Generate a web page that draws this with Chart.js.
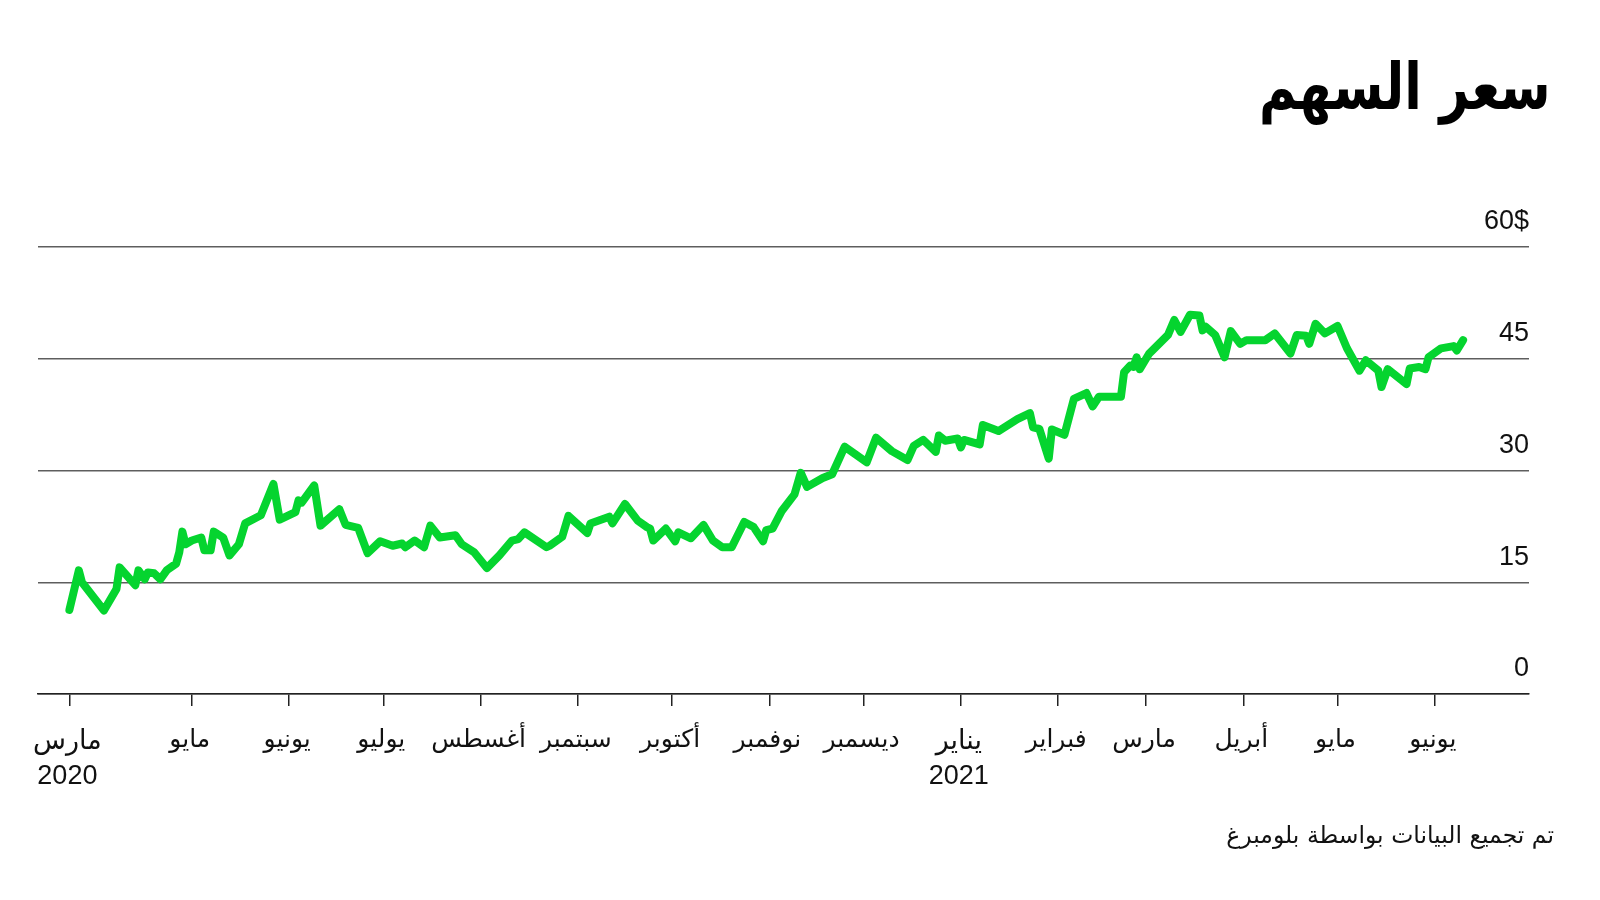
<!DOCTYPE html>
<html lang="ar">
<head>
  <meta charset="UTF-8"/>
  <title>سعر السهم</title>
  <script src="https://cdn.jsdelivr.net/npm/chart.js"></script>
  <style>
    body { margin: 0; background: #fff; }
    #wrap { position: relative; width: 1600px; height: 900px; background: #fff; }
    #chart { position: absolute; left: 0; top: 0; }
    .title { position: absolute; right: 49px; top: 55px; margin: 0; direction: rtl;
             font-family: "DejaVu Sans", sans-serif; font-weight: bold; font-size: 64px; line-height: 1; color: #000;
             transform: scaleX(0.8); transform-origin: right center; }
    .source { position: absolute; right: 46px; top: 821px; margin: 0; direction: rtl;
              font-family: "DejaVu Sans", sans-serif; font-size: 23.5px; line-height: 1.2; color: #111; }
  </style>
</head>
<body>
<div id="wrap">
  <canvas id="chart" width="1600" height="900"></canvas>
  <h1 class="title">سعر السهم</h1>
  <p class="source">تم تجميع البيانات بواسطة بلومبرغ</p>
</div>
<script>
// days since 23 Mar 2020 (first trading day shown)
const days = [0,3,4,11,15,16,21,22,24,25,27,29,31,34,35,36,37,39,42,43,45,46,49,51,54,56,61,65,67,72,73,74,78,80,86,88,92,95,99,103,106,107,110,113,115,118,123,125,129,133,137,141,143,145,152,153,157,159,165,166,172,173,177,181,184,185,186,190,193,194,198,202,205,208,211,215,218,221,222,224,227,231,233,235,240,243,247,254,257,262,267,269,272,276,277,279,283,284,285,290,291,296,302,306,307,309,312,313,317,320,324,326,328,335,336,338,339,340,341,342,344,350,352,354,357,360,361,362,365,368,370,373,375,381,384,389,391,394,395,397,400,404,407,411,413,417,418,420,426,427,430,432,433,437,441,442,444];
const prices = [11.3,16.6,15.0,11.2,14.1,17.0,14.6,16.6,15.4,16.3,16.2,15.4,16.6,17.5,19.0,21.8,20.1,20.6,21.0,19.3,19.3,21.8,21.0,18.6,20.1,22.9,24.0,28.2,23.4,24.4,26.0,25.7,28.0,22.6,24.8,22.7,22.3,18.9,20.5,19.9,20.2,19.7,20.6,19.7,22.6,21.0,21.3,20.1,19.0,16.9,18.6,20.6,20.8,21.7,19.7,19.9,21.1,23.9,21.6,22.9,23.8,22.9,25.5,23.3,22.4,22.2,20.6,22.2,20.5,21.7,20.9,22.7,20.6,19.7,19.7,23.1,22.4,20.5,22.0,22.2,24.6,26.8,29.7,27.8,29.0,29.5,33.2,31.1,34.4,32.6,31.4,33.3,34.1,32.5,34.7,34.0,34.3,33.1,34.1,33.5,36.1,35.3,36.9,37.7,35.8,35.6,31.6,35.5,34.8,39.6,40.4,38.6,39.9,39.9,43.2,44.1,43.9,45.2,43.6,44.3,45.7,48.2,50.2,48.6,50.9,50.8,48.8,49.3,48.2,45.2,48.7,47.0,47.5,47.5,48.4,45.7,48.2,48.1,47.0,49.7,48.4,49.4,46.4,43.4,44.8,43.4,41.2,43.6,41.6,43.7,43.9,43.6,45.2,46.4,46.7,46.1,47.5];

// month ticks (same day offsets)
const tickDays = [0,39,70,100,131,162,192,223,253,284,315,343,374,404,435];
const tickLabels = [['مارس','2020'],'مايو','يونيو','يوليو','أغسطس','سبتمبر','أكتوبر','نوفمبر','ديسمبر',['يناير','2021'],'فبراير','مارس','أبريل','مايو','يونيو'];
const yTicks = [0,15,30,45,60];

const points = days.map((d,i)=>({x:d, y:prices[i]}));
const fontFamily = '"Liberation Sans", "DejaVu Sans", sans-serif';

new Chart(document.getElementById('chart'), {
  type: 'line',
  data: { datasets: [{ data: points, borderColor: '#05d42f', borderWidth: 8, pointRadius: 0,
    borderJoinStyle: 'round', borderCapStyle: 'round', tension: 0 }] },
  options: {
    responsive: false, animation: false, devicePixelRatio: 1,
    layout: { padding: { left: 38, right: 71, top: 247, bottom: 0 } },
    plugins: { legend: { display: false }, tooltip: { enabled: false } },
    scales: {
      x: {
        type: 'linear', min: -10, max: 465,
        afterBuildTicks: s => { s.ticks = tickDays.map(v=>({value:v})); },
        afterFit: s => { s.height = 206; },
        ticks: { autoSkip: false, maxRotation: 0, padding: 18, labelOffset: -2, color: '#111',
          // year labels keep the larger digit size, month names a bit tighter
          font: ctx => ({ family: fontFamily, size: Array.isArray(tickLabels[ctx.index]) ? 27 : 25, lineHeight: 1.3 }),
          callback: (v,i) => tickLabels[i] },
        grid: { drawOnChartArea: false, drawTicks: true, tickLength: 12, color: '#222', lineWidth: 1.5 },
        border: { display: true, color: '#222', width: 1.5 }
      },
      y: {
        position: 'right', min: 0, max: 60,
        afterBuildTicks: s => { s.ticks = yTicks.map(v=>({value:v})); },
        ticks: { mirror: true, padding: 0, labelOffset: -25, color: '#111',
          font: { family: fontFamily, size: 27 },
          callback: v => v === 60 ? '60$' : String(v) },
        grid: { drawTicks: false, color: '#5e5e5e', lineWidth: 1.5 },
        border: { display: false }
      }
    }
  }
});
</script>
</body>
</html>
